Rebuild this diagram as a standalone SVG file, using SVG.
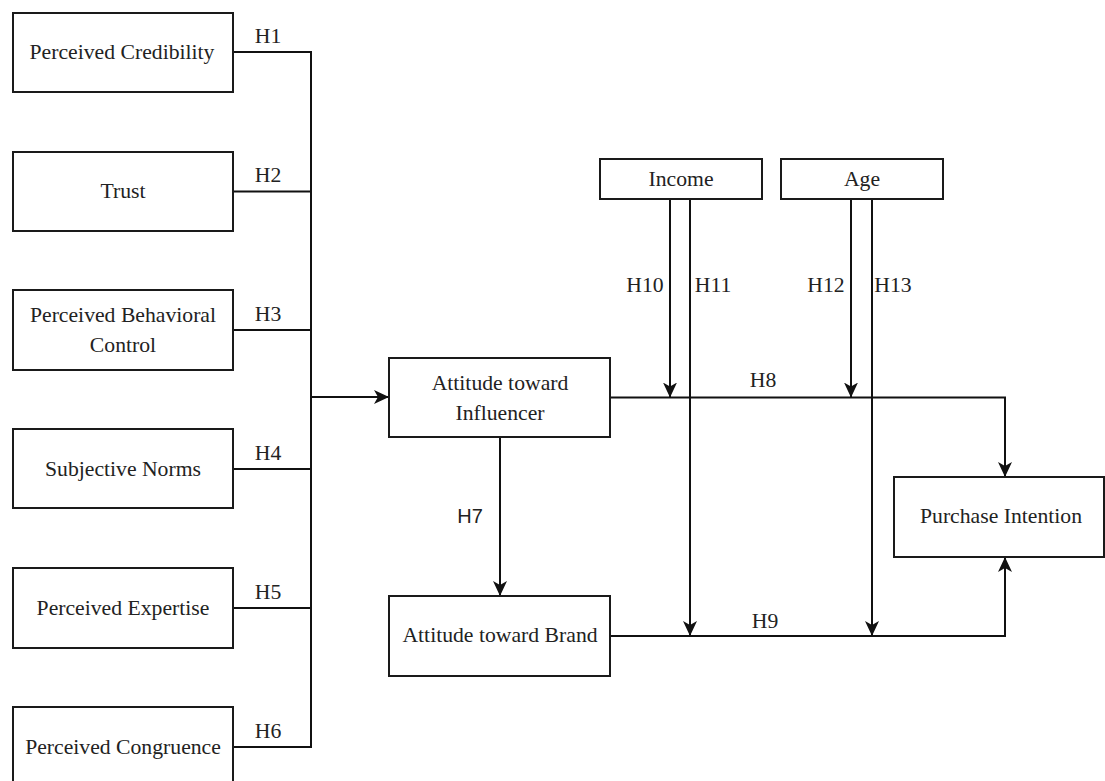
<svg xmlns="http://www.w3.org/2000/svg" width="1105" height="781" viewBox="0 0 1105 781">
  <style>
    .box { fill: #ffffff; stroke: #1a1a1a; stroke-width: 2; }
    .lbl { font-family: "Liberation Serif", "Times New Roman", serif; font-size: 21.7px; fill: #222222; text-anchor: middle; }
    .sans { font-family: "Liberation Sans", Arial, sans-serif; font-size: 20px; fill: #222222; text-anchor: middle; }
    .ln { fill: none; stroke: #111111; stroke-width: 2; }
  </style>
  <defs>
    <marker id="arr" markerUnits="userSpaceOnUse" markerWidth="16" markerHeight="16" refX="15" refY="7" orient="auto">
      <path d="M0,0 L15,7 L0,14 L4,7 Z" fill="#111111"/>
    </marker>
  </defs>
  <rect width="1105" height="781" fill="#ffffff"/>

  <g id="connectors">
    <path class="ln" d="M233,52 H311 V747 H233"/>
    <path class="ln" d="M233,191.5 H311"/>
    <path class="ln" d="M233,330 H311"/>
    <path class="ln" d="M233,469 H311"/>
    <path class="ln" d="M233,608 H311"/>
    <path class="ln" d="M311,397 H389" marker-end="url(#arr)"/>
    <path class="ln" d="M500,437 V596" marker-end="url(#arr)"/>
    <path class="ln" d="M610,397.5 H1005 V477" marker-end="url(#arr)"/>
    <path class="ln" d="M610,636 H1005 V557" marker-end="url(#arr)"/>
    <path class="ln" d="M670,199 V397.5" marker-end="url(#arr)"/>
    <path class="ln" d="M690,199 V636" marker-end="url(#arr)"/>
    <path class="ln" d="M851,199 V397.5" marker-end="url(#arr)"/>
    <path class="ln" d="M872,199 V636" marker-end="url(#arr)"/>
    <text class="lbl" x="268" y="43">H1</text>
    <text class="lbl" x="268" y="182">H2</text>
    <text class="lbl" x="268" y="321">H3</text>
    <text class="lbl" x="268" y="460">H4</text>
    <text class="lbl" x="268" y="599">H5</text>
    <text class="lbl" x="268" y="738">H6</text>
    <text class="sans" x="470" y="523">H7</text>
    <text class="lbl" x="763" y="387">H8</text>
    <text class="lbl" x="765" y="628">H9</text>
    <text class="lbl" x="645" y="292">H10</text>
    <text class="lbl" x="713" y="292">H11</text>
    <text class="lbl" x="826" y="292">H12</text>
    <text class="lbl" x="893" y="292">H13</text>
  </g>

  <g id="perceived-credibility">
    <rect class="box" x="13" y="13" width="220" height="79"/>
    <text class="lbl" x="122" y="59">Perceived Credibility</text>
  </g>
  <g id="trust">
    <rect class="box" x="13" y="152" width="220" height="79"/>
    <text class="lbl" x="123" y="198">Trust</text>
  </g>
  <g id="perceived-behavioral-control">
    <rect class="box" x="13" y="290" width="220" height="80"/>
    <text class="lbl" x="123" y="322">Perceived Behavioral</text>
    <text class="lbl" x="123" y="352">Control</text>
  </g>
  <g id="subjective-norms">
    <rect class="box" x="13" y="429" width="220" height="79"/>
    <text class="lbl" x="123" y="476">Subjective Norms</text>
  </g>
  <g id="perceived-expertise">
    <rect class="box" x="13" y="568" width="220" height="80"/>
    <text class="lbl" x="123" y="615">Perceived Expertise</text>
  </g>
  <g id="perceived-congruence">
    <rect class="box" x="13" y="707" width="220" height="80"/>
    <text class="lbl" x="123" y="754">Perceived Congruence</text>
  </g>
  <g id="attitude-influencer">
    <rect class="box" x="389" y="358" width="221" height="79"/>
    <text class="lbl" x="500" y="390">Attitude toward</text>
    <text class="lbl" x="500" y="420">Influencer</text>
  </g>
  <g id="attitude-brand">
    <rect class="box" x="389" y="596" width="221" height="80"/>
    <text class="lbl" x="500" y="642">Attitude toward Brand</text>
  </g>
  <g id="income">
    <rect class="box" x="600" y="159" width="162" height="40"/>
    <text class="lbl" x="681" y="186">Income</text>
  </g>
  <g id="age">
    <rect class="box" x="781" y="159" width="162" height="40"/>
    <text class="lbl" x="862" y="186">Age</text>
  </g>
  <g id="purchase-intention">
    <rect class="box" x="894" y="477" width="210" height="80"/>
    <text class="lbl" x="1001" y="523">Purchase Intention</text>
  </g>
</svg>
